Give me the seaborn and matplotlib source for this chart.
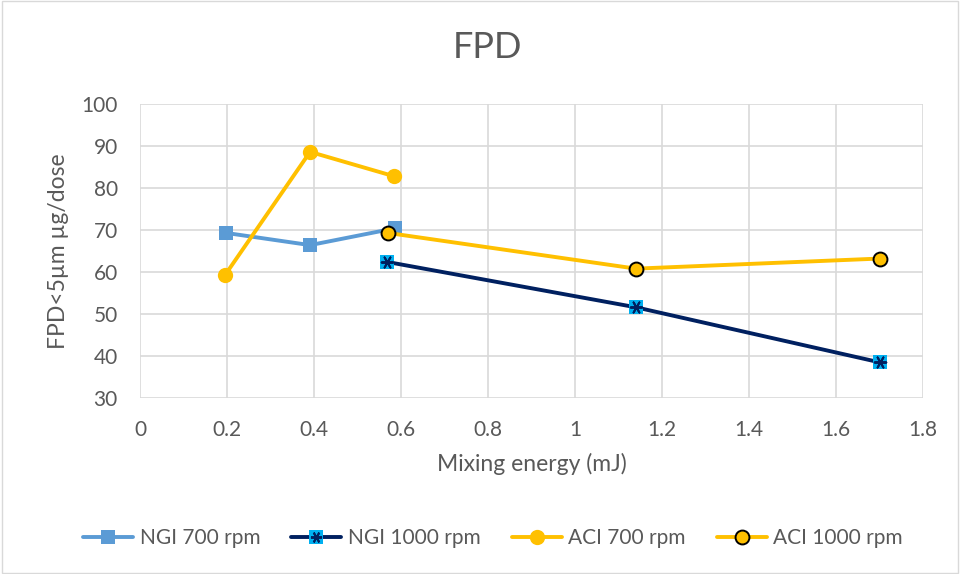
import matplotlib
matplotlib.use("Agg")
import matplotlib.pyplot as plt
import seaborn as sns
import pandas as pd
from matplotlib.lines import Line2D
from matplotlib.patches import Rectangle

ngi700_x = [0.198, 0.391, 0.586]
ngi700_y = [69.3, 66.4, 70.4]
ngi1000_x = [0.568, 1.14, 1.70]
ngi1000_y = [62.4, 51.6, 38.5]
aci700_x = [0.195, 0.391, 0.584]
aci700_y = [59.2, 88.6, 82.8]
aci1000_x = [0.570, 1.14, 1.70]
aci1000_y = [69.3, 60.8, 63.2]

labels = ["NGI 700 rpm", "NGI 1000 rpm", "ACI 700 rpm", "ACI 1000 rpm"]
xticks = [0, 0.2, 0.4, 0.6, 0.8, 1, 1.2, 1.4, 1.6, 1.8]
xticklabels = ["0", "0.2", "0.4", "0.6", "0.8", "1", "1.2", "1.4", "1.6", "1.8"]
yticks = [30, 40, 50, 60, 70, 80, 90, 100]

sns.set_theme(style="white")
plt.rcParams['font.family'] = ['Lato', 'DejaVu Sans']
txt = "#595959"

fig = plt.figure(figsize=(9.6, 5.74), dpi=100)
ax = fig.add_axes([140/960, 1-398/574, (923-140)/960, (398-104)/574])

c_ngi7 = "#5B9BD5"
c_ngi10 = "#002060"
c_ngi10_m = "#00B0F0"
c_aci = "#FFC000"
star = (6, 2, 90)

df1 = pd.DataFrame({"x": ngi700_x, "y": ngi700_y})
df2 = pd.DataFrame({"x": ngi1000_x, "y": ngi1000_y})
df3 = pd.DataFrame({"x": aci700_x, "y": aci700_y})
df4 = pd.DataFrame({"x": aci1000_x, "y": aci1000_y})

sns.lineplot(data=df1, x="x", y="y", ax=ax, color=c_ngi7, lw=2.8, marker="s",
             markersize=10, markeredgewidth=0, markerfacecolor=c_ngi7, sort=False, zorder=3)
sns.lineplot(data=df2, x="x", y="y", ax=ax, color=c_ngi10, lw=2.8, marker="s",
             markersize=10, markeredgewidth=0, markerfacecolor=c_ngi10_m, sort=False, zorder=3)
ax.scatter(df2["x"], df2["y"], marker=star, s=70, color=c_ngi10, linewidths=1.4, zorder=4)
sns.lineplot(data=df3, x="x", y="y", ax=ax, color=c_aci, lw=2.8, marker="o",
             markersize=11, markeredgewidth=0, markerfacecolor=c_aci, sort=False, zorder=3)
sns.lineplot(data=df4, x="x", y="y", ax=ax, color=c_aci, lw=2.8, marker="o",
             markersize=10, markeredgewidth=1.4, markeredgecolor="black",
             markerfacecolor=c_aci, sort=False, zorder=5)

ax.set_xlim(0, 1.8)
ax.set_ylim(30, 100)
ax.set_xticks(xticks)
ax.set_xticklabels(xticklabels)
ax.set_yticks(yticks)
ax.grid(True, color="#D9D9D9", lw=1.2)
for s in ax.spines.values():
    s.set_visible(False)
ax.tick_params(axis="both", colors=txt, labelsize=15, length=0)
ax.tick_params(axis="x", pad=16)
ax.tick_params(axis="y", pad=16)
ax.set_xlabel("Mixing energy (mJ)", color=txt, fontsize=16.5, labelpad=9)
ax.set_ylabel("FPD<5µm µg/dose", color=txt, fontsize=16.5, labelpad=9)
fig.text(488/960, 1-48/574, "FPD", ha="center", va="center", fontsize=26, color=txt)

h1 = Line2D([], [], color=c_ngi7, lw=2.8, marker="s", markersize=10, markeredgewidth=0)
h2a = Line2D([], [], color=c_ngi10, lw=2.8, marker="s", markersize=10, markeredgewidth=0,
             markerfacecolor=c_ngi10_m)
h2b = Line2D([], [], color=c_ngi10, lw=0, marker=star, markersize=8, markeredgewidth=1.4)
h3 = Line2D([], [], color=c_aci, lw=2.8, marker="o", markersize=11, markeredgewidth=0)
h4 = Line2D([], [], color=c_aci, lw=2.8, marker="o", markersize=10, markeredgewidth=1.4,
            markeredgecolor="black")
leg = fig.legend([h1, (h2a, h2b), h3, h4], labels, loc="center", bbox_to_anchor=(493/960, 1-538/574),
                 ncol=4, frameon=False, fontsize=15, handlelength=2.4, columnspacing=1.5,
                 handletextpad=0.3)
for t in leg.get_texts():
    t.set_color(txt)

fig.patches.append(Rectangle((0.002, 0.002), 0.996, 0.996, transform=fig.transFigure,
                             fill=False, edgecolor="#D9D9D9", lw=1))
fig.savefig("out.png", dpi=100)
